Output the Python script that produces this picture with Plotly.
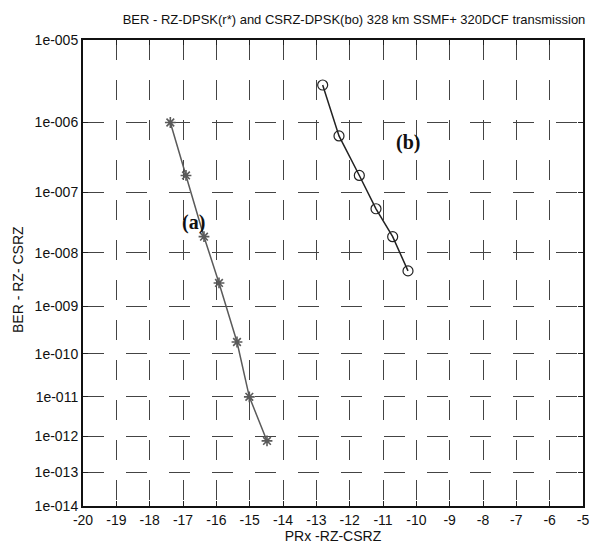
import numpy as np
import plotly.graph_objects as go

# Series (a): RZ-DPSK (stars)
prx_a = [-17.38, -16.91, -16.37, -15.92, -15.38, -15.01, -14.48]
ber_a = [1.0e-6, 1.8e-7, 1.9e-8, 2.8e-9, 1.8e-10, 1.0e-11, 7.5e-13]

# Series (b): CSRZ-DPSK (circles)
prx_b = [-12.81, -12.32, -11.71, -11.21, -10.71, -10.25]
ber_b = [3.0e-6, 6.6e-7, 1.8e-7, 5.5e-8, 1.9e-8, 4.7e-9]

x_ticks = list(range(-20, -4))
y_exps = list(range(5, 15))
y_ticktext = ["1e-%03d" % e for e in y_exps]


def ber_scale(b):
    # log(-log10(BER)) scale used on the vertical axis
    return np.log10(-np.log10(np.asarray(b, dtype=float)))


fig = go.Figure()
fig.add_trace(go.Scatter(
    x=prx_a, y=ber_scale(ber_a), mode="lines+markers",
    line=dict(color="#5a5a5a", width=1.5),
    marker=dict(symbol="asterisk-open", size=9, color="#5a5a5a",
                line=dict(color="#5a5a5a", width=1.6)),
    showlegend=False))
fig.add_trace(go.Scatter(
    x=prx_b, y=ber_scale(ber_b), mode="lines+markers",
    line=dict(color="#222222", width=1.5),
    marker=dict(symbol="circle-open", size=10, color="#222222",
                line=dict(color="#222222", width=1.2)),
    showlegend=False))

fig.add_annotation(x=-16.7, y=ber_scale(10 ** -7.49), text="<b>(a)</b>",
                   showarrow=False, font=dict(family="Liberation Serif", size=20, color="#111"))
fig.add_annotation(x=-10.25, y=ber_scale(10 ** -6.265), text="<b>(b)</b>",
                   showarrow=False, font=dict(family="Liberation Serif", size=20, color="#111"))
fig.add_annotation(xref="paper", yref="paper", x=-0.13, y=0.485, text="BER - RZ- CSRZ",
                   textangle=-90, showarrow=False, xanchor="center", yanchor="middle",
                   font=dict(family="Liberation Sans", size=14, color="#111"))

fig.update_layout(
    width=594, height=538,
    margin=dict(l=75, r=19, t=32, b=40),
    paper_bgcolor="white", plot_bgcolor="white",
    font=dict(family="Liberation Sans", size=13, color="#111"),
    title=dict(text="BER - RZ-DPSK(r*) and CSRZ-DPSK(bo) 328 km SSMF+ 320DCF transmission",
               x=0.972, xanchor="right", y=0.978, yanchor="middle",
               font=dict(family="Liberation Sans", size=13, color="#111")),
)
fig.update_xaxes(
    range=[-20, -5], tickvals=x_ticks, ticktext=[str(v) for v in x_ticks],
    showline=True, linecolor="#111", linewidth=2, mirror="allticks",
    showgrid=True, gridcolor="#444", gridwidth=1, griddash="20px,20px",
    zeroline=False, ticks="inside", ticklen=5, tickcolor="#222", tickwidth=1,
    tickfont=dict(size=14), automargin=False,
    title=dict(text="PRx -RZ-CSRZ", font=dict(size=14), standoff=4),
)
fig.update_yaxes(
    range=[float(ber_scale(1e-14)), float(ber_scale(1e-5))],
    tickvals=list(ber_scale([10.0 ** -e for e in y_exps])), ticktext=y_ticktext,
    showline=True, linecolor="#111", linewidth=2, mirror="allticks",
    showgrid=True, gridcolor="#444", gridwidth=1, griddash="21px,22px",
    zeroline=False, ticks="inside", ticklen=5, tickcolor="#222", tickwidth=1,
    tickfont=dict(size=14), automargin=False,
)

fig.write_html("out.html")
